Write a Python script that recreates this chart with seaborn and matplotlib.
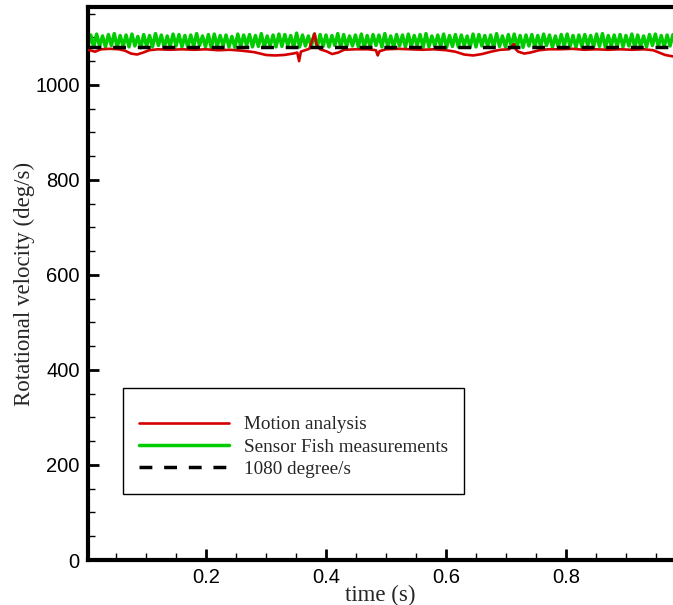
"""Rotational velocity: motion analysis vs Sensor Fish measurements."""
import matplotlib
matplotlib.use("Agg")
import matplotlib.pyplot as plt
from matplotlib.ticker import MultipleLocator
import numpy as np
import pandas as pd
import seaborn as sns

# Motion analysis (red)
motion_time = [0.003, 0.015, 0.025, 0.04, 0.055, 0.065, 0.075, 0.085, 0.095, 0.105,
               0.12, 0.14, 0.16, 0.18, 0.2, 0.22, 0.24, 0.26, 0.28, 0.29,
               0.30, 0.315, 0.33, 0.345, 0.352, 0.355, 0.358, 0.365, 0.372, 0.378,
               0.381, 0.384, 0.39, 0.40, 0.41, 0.42, 0.43, 0.45, 0.47, 0.483,
               0.486, 0.489, 0.50, 0.52, 0.54, 0.56, 0.58, 0.60, 0.615, 0.63,
               0.645, 0.66, 0.675, 0.69, 0.705, 0.713, 0.716, 0.72, 0.73, 0.74,
               0.755, 0.77, 0.79, 0.81, 0.83, 0.85, 0.87, 0.89, 0.91, 0.93,
               0.945, 0.955, 0.965, 0.978]
motion_vel = [1074, 1070, 1075, 1076, 1075, 1072, 1066, 1064, 1068, 1073,
              1075, 1074, 1075, 1074, 1075, 1073, 1074, 1072, 1069, 1066,
              1063, 1062, 1063, 1066, 1068, 1050, 1070, 1073, 1076, 1098,
              1108, 1085, 1075, 1071, 1065, 1068, 1074, 1075, 1075, 1073,
              1062, 1071, 1075, 1076, 1075, 1074, 1075, 1073, 1070, 1064,
              1062, 1065, 1070, 1074, 1075, 1086, 1075, 1070, 1066, 1068,
              1073, 1075, 1075, 1076, 1074, 1075, 1074, 1075, 1074, 1075,
              1073, 1068, 1063, 1060]

# Sensor Fish (green) - peak and trough values of the oscillation
sensor_peaks = [1105, 1107, 1103, 1106, 1108, 1104, 1105, 1107, 1102, 1106,
                1104, 1108, 1105, 1103, 1107, 1106, 1104, 1105, 1108, 1103,
                1106, 1107, 1104, 1105, 1102, 1107, 1105, 1106, 1104, 1108,
                1103, 1105, 1107, 1106, 1104, 1109, 1105, 1103, 1107, 1106,
                1105, 1104, 1108, 1106, 1103, 1105, 1107, 1104, 1106, 1105,
                1108, 1103, 1106, 1105, 1107, 1104, 1106, 1108, 1103, 1105,
                1107, 1104, 1106, 1105, 1103, 1107, 1106, 1104, 1105, 1108,
                1103, 1106, 1107, 1104, 1105, 1106, 1104, 1107, 1105, 1103,
                1106, 1107, 1104, 1105, 1106, 1104, 1107, 1108, 1104, 1105,
                1106, 1104, 1107, 1105, 1103, 1106, 1107, 1104, 1105, 1106]
sensor_troughs = [1081, 1079, 1082, 1080, 1083, 1079, 1081, 1080, 1082, 1078,
                  1081, 1080, 1083, 1079, 1081, 1082, 1080, 1079, 1081, 1083,
                  1080, 1078, 1081, 1082, 1080, 1079, 1081, 1083, 1080, 1081,
                  1079, 1082, 1080, 1081, 1083, 1079, 1080, 1082, 1081, 1079,
                  1081, 1080, 1083, 1079, 1081, 1082, 1080, 1079, 1081, 1083,
                  1080, 1081, 1079, 1082, 1080, 1081, 1083, 1079, 1080, 1082,
                  1081, 1079, 1081, 1080, 1083, 1079, 1080, 1082, 1081, 1079,
                  1081, 1080, 1082, 1081, 1079, 1082, 1080, 1081, 1083, 1079,
                  1080, 1082, 1081, 1079, 1081, 1083, 1080, 1081, 1079, 1082,
                  1081, 1080, 1082, 1079, 1081, 1080, 1083, 1081, 1080, 1082]
sensor_vel = np.ravel(np.column_stack([sensor_troughs, sensor_peaks]))
sensor_time = np.linspace(0.003, 0.978, len(sensor_vel))

reference_vel = 1080
x_range = (0.0033, 0.978)
y_range = (0, 1164)

motion_df = pd.DataFrame({"time": motion_time, "vel": motion_vel})
sensor_df = pd.DataFrame({"time": sensor_time, "vel": sensor_vel})

sns.set_style("ticks")
plt.rcParams["font.family"] = ["Liberation Sans", "DejaVu Sans"]

fig = plt.figure(figsize=(6.73, 6.05), dpi=100)
ax = fig.add_axes([88 / 673, 45 / 605, 585 / 673, 553 / 605])

sns.lineplot(data=sensor_df, x="time", y="vel", ax=ax, color="#00cc00",
             linewidth=2.5, label="Sensor Fish measurements", zorder=2)
sns.lineplot(data=motion_df, x="time", y="vel", ax=ax, color="#d40000",
             linewidth=1.9, label="Motion analysis", zorder=3)
ax.axhline(reference_vel, color="black", linewidth=2.5, dashes=(3.7, 3.4),
           label="1080 degree/s", zorder=4)

ax.set_xlim(*x_range)
ax.set_ylim(*y_range)
ax.set_xticks([0.2, 0.4, 0.6, 0.8])
ax.xaxis.set_minor_locator(MultipleLocator(0.05))
ax.yaxis.set_major_locator(MultipleLocator(200))
ax.yaxis.set_minor_locator(MultipleLocator(50))
ax.tick_params(which="both", direction="in", top=False, right=False,
               labelsize=14.5, colors="black")
ax.tick_params(which="major", length=8, width=2, pad=6)
ax.tick_params(which="minor", length=5, width=1)

for side in ["left", "bottom", "top"]:
    ax.spines[side].set_linewidth(3)
    ax.spines[side].set_color("black")
ax.spines["right"].set_visible(False)

serif = ["Liberation Serif", "DejaVu Serif"]
ax.set_xlabel("time (s)", fontsize=16.5, family=serif, labelpad=-2)
ax.set_ylabel("Rotational velocity (deg/s)", fontsize=16.5, family=serif, labelpad=0)

# legend order as in the reference
handles, labels = ax.get_legend_handles_labels()
order = [labels.index(n) for n in ["Motion analysis", "Sensor Fish measurements", "1080 degree/s"]]
leg = ax.legend([handles[i] for i in order], [labels[i] for i in order],
                loc="lower left", bbox_to_anchor=(0.06, 0.119), borderaxespad=0,
                title=" ", handlelength=4.7, handletextpad=0.75, labelspacing=0.25,
                fancybox=False, framealpha=1, edgecolor="black",
                prop={"family": serif, "size": 13.8}, borderpad=0.85)
leg.get_frame().set_linewidth(1)
leg.get_title().set_fontsize(6)

fig.savefig("out.png", dpi=100)
plt.close(fig)
